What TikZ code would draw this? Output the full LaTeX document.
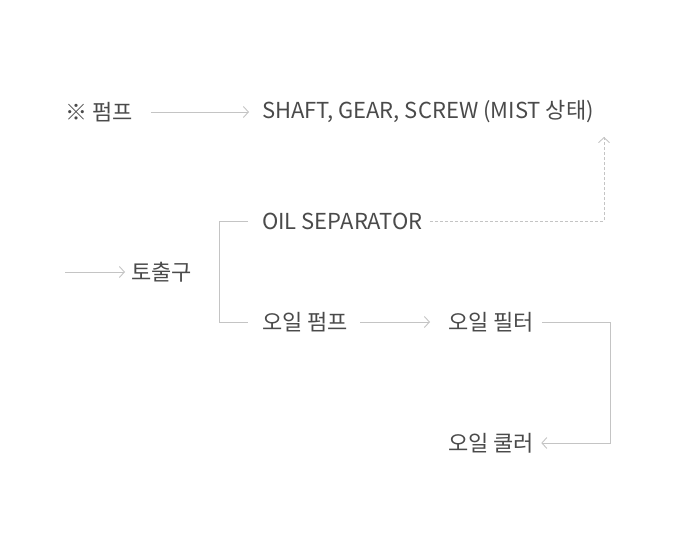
\documentclass[tikz,border=0pt]{standalone}
\usepackage{fontspec}
\setmainfont{Noto Sans CJK KR}
\usetikzlibrary{arrows.meta}
\definecolor{txtgray}{HTML}{4A4A4A}
\definecolor{linegray}{HTML}{C4C4C4}
\tikzset{
    label/.style={anchor=west,inner sep=0pt,text=txtgray,font=\fontsize{22}{26}\selectfont},
    link/.style={draw=linegray,line width=0.9pt},
    arrow/.style={link,-{Straight Barb[length=5pt,width=11pt,line width=0.9pt]}}
}
\begin{document}
\begin{tikzpicture}[x=1pt,y=-1pt]
            \useasboundingbox (0,0) rectangle (690,556);
            \node[label] (pump) at (65,112) {※ 펌프};
            \node[label] (shaft) at (262,112) {SHAFT, GEAR, SCREW (MIST 상태)};
            \node[label] (sep) at (262,221) {OIL SEPARATOR};
            \node[label] (outlet) at (131,272) {토출구};
            \node[label] (oilpump) at (262,322) {오일 펌프};
            \node[label] (filter) at (448,322) {오일 필터};
            \node[label] (cooler) at (448,443) {오일 쿨러};
            \coordinate (in) at (65,272);
            \coordinate (split) at (219,272);
            \coordinate (mist) at (604,137);

            \draw[arrow] ([xshift=18pt]pump.east) -- ([xshift=-13pt]shaft.west);
            \draw[link,dashed,dash pattern=on 3pt off 2pt] ([xshift=7pt]sep.east) -| (mist);
            \draw[arrow,dashed,dash pattern=on 3pt off 2pt] (604,150) -- (mist);
            \draw[arrow] (in) -- ([xshift=-6pt]outlet.west);
            \draw[link] ([xshift=-14pt]sep.west) -| (split |- oilpump) -- ([xshift=-14pt]oilpump.west);
            \draw[arrow] ([xshift=12pt]oilpump.east) -- ([xshift=-18pt]filter.west);
            \draw[arrow] ([xshift=8pt]filter.east) -- (610,322) |- ([xshift=7pt]cooler.east);
\end{tikzpicture}
\end{document}
